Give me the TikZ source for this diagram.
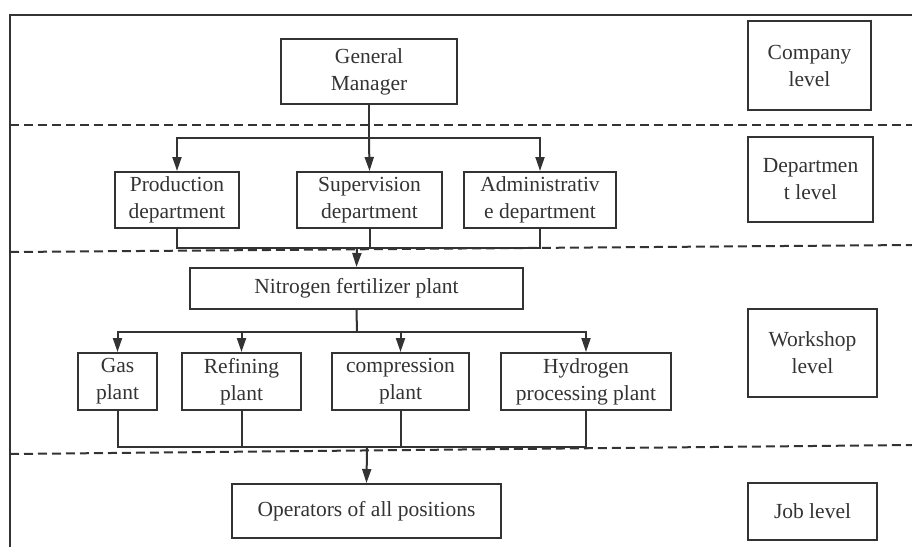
\documentclass[tikz,border=0pt]{standalone}
\usepackage{fontspec}
\setmainfont{Liberation Serif}
\usepackage{xcolor}
\definecolor{orgink}{HTML}{333333}
\usetikzlibrary{arrows.meta,positioning}

\begin{document}
\begin{tikzpicture}[x=1pt,y=-1pt,
  b/.style={draw=orgink,line width=2pt,inner sep=0pt,align=center,text=orgink,
    font=\fontsize{21.5}{27}\selectfont},
  lv/.style={b},
  ln/.style={draw=orgink,line width=2pt},
  arr/.style={ln,-{Triangle[length=14pt,width=9pt]}},
  sep/.style={draw=orgink,line width=2pt,dash pattern=on 9pt off 5pt}]
  \useasboundingbox (0,0) rectangle (912,547);
  % frame and level separators
  \draw[ln] (10,547) -- (10,15) -- (912,15);
  \draw[sep] (10,125) -- (912,125);
  \draw[sep] (10,252) -- (912,245);
  \draw[sep] (10,454) -- (912,445);
  % company level
  \node[b,minimum width=176pt,minimum height=65pt] (gm) at (369,71.5) {General\\Manager};
  \node[lv,minimum width=123pt,minimum height=89pt] (complev) at (809.5,65.5) {Company\\level};
  % department level
  \node[b,minimum width=124pt,minimum height=56pt] (prod) at (177,200) {Production\\department};
  \node[b,minimum width=145pt,minimum height=56pt] (sup) at (369.5,200) {Supervision\\department};
  \node[b,minimum width=152pt,minimum height=56pt] (adm) at (540,200) {Administrativ\\e department};
  \node[lv,minimum width=125pt,minimum height=85pt] (deplev) at (810.5,179.5) {Departmen\\t level};
  % workshop level
  \node[b,minimum width=333pt,minimum height=41pt] (nit) at (356.5,288.5) {Nitrogen fertilizer plant};
  \node[b,minimum width=79pt,minimum height=57pt] (gas) at (117.5,381.5) {Gas\\plant};
  \node[b,minimum width=119pt,minimum height=57pt] (ref) at (241.5,381.5) {Refining\\plant};
  \node[b,minimum width=137pt,minimum height=57pt] (comp) at (400.5,381.5) {compression\\plant};
  \node[b,minimum width=170pt,minimum height=57pt] (hyd) at (586,381.5) {Hydrogen\\processing plant};
  \node[lv,minimum width=129pt,minimum height=88pt] (worklev) at (812.5,353) {Workshop\\level};
  % job level
  \node[b,minimum width=269pt,minimum height=54pt] (ops) at (366.5,511) {Operators of all positions};
  \node[lv,minimum width=129pt,minimum height=57pt] (joblev) at (812.5,511.5) {Job level};
  % connectors
  \coordinate (split1) at (369,138);
  \coordinate (join1) at (357,248);
  \coordinate (split2) at (357,332);
  \coordinate (join2) at (367,447);
  \draw[ln] (gm.south) -- (split1);
  \draw[arr] (split1) -| (prod.north);
  \draw[arr] (split1) -- (sup.north);
  \draw[arr] (split1) -| (adm.north);
  \draw[ln] (prod.south) |- (adm.south |- join1) -- (adm.south);
  \draw[ln] (sup.south) -- (sup.south |- join1);
  \draw[arr] (join1) -- (nit.north);
  \draw[ln] (nit.south) -- (split2);
  \draw[arr] (split2) -| (gas.north);
  \draw[arr] (split2) -| (ref.north);
  \draw[arr] (split2) -| (comp.north);
  \draw[arr] (split2) -| (hyd.north);
  \draw[ln] (gas.south) |- (hyd.south |- join2) -- (hyd.south);
  \draw[ln] (ref.south) -- (ref.south |- join2);
  \draw[ln] (comp.south) -- (comp.south |- join2);
  \draw[arr] (join2) -- (ops.north);
\end{tikzpicture}
\end{document}
